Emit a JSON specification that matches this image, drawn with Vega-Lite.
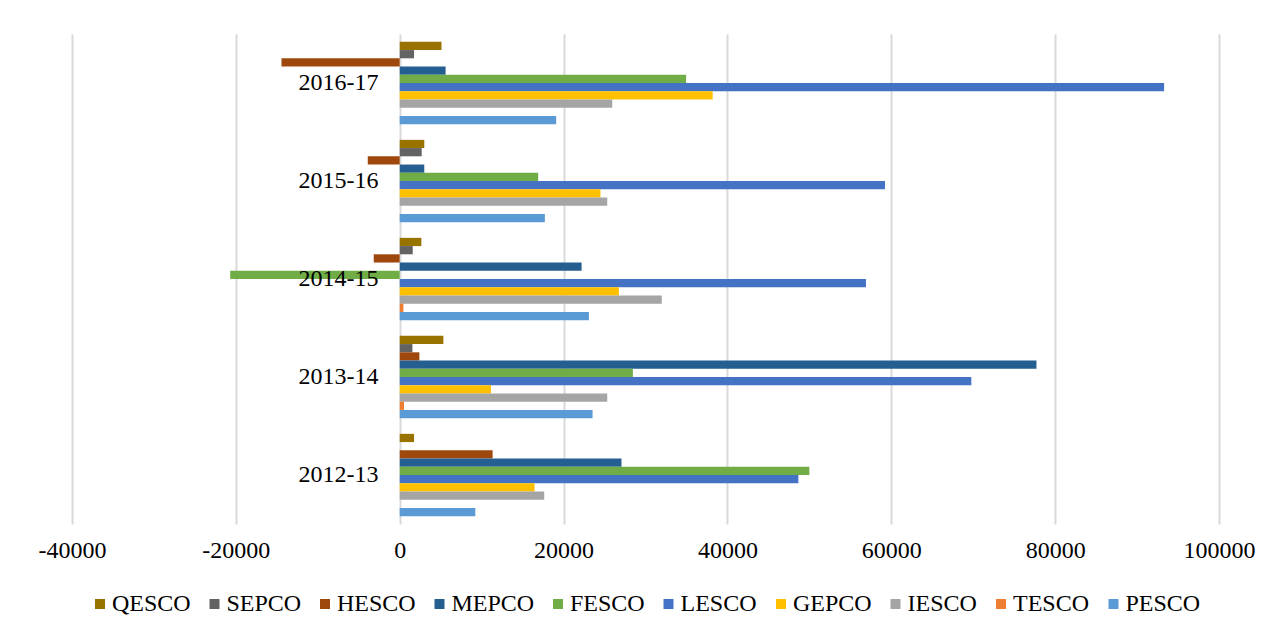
{
  "$schema": "https://vega.github.io/schema/vega-lite/v6.json",
  "width": 1147,
  "height": 490,
  "autosize": {"type": "none"},
  "padding": {"left": 72, "top": 34, "right": 64, "bottom": 115},
  "background": "white",
  "config": {"view": {"stroke": null}, "font": "Liberation Serif"},
  "data": {
    "values": [
      {"year": "2016-17", "company": "QESCO", "value": 5100},
      {"year": "2016-17", "company": "SEPCO", "value": 1750},
      {"year": "2016-17", "company": "HESCO", "value": -14430},
      {"year": "2016-17", "company": "MEPCO", "value": 5600},
      {"year": "2016-17", "company": "FESCO", "value": 34960},
      {"year": "2016-17", "company": "LESCO", "value": 93300},
      {"year": "2016-17", "company": "GEPCO", "value": 38200},
      {"year": "2016-17", "company": "IESCO", "value": 25940},
      {"year": "2016-17", "company": "TESCO", "value": 0},
      {"year": "2016-17", "company": "PESCO", "value": 19100},
      {"year": "2015-16", "company": "QESCO", "value": 3000},
      {"year": "2015-16", "company": "SEPCO", "value": 2680},
      {"year": "2015-16", "company": "HESCO", "value": -3900},
      {"year": "2015-16", "company": "MEPCO", "value": 3000},
      {"year": "2015-16", "company": "FESCO", "value": 16900},
      {"year": "2015-16", "company": "LESCO", "value": 59230},
      {"year": "2015-16", "company": "GEPCO", "value": 24500},
      {"year": "2015-16", "company": "IESCO", "value": 25330},
      {"year": "2015-16", "company": "TESCO", "value": 0},
      {"year": "2015-16", "company": "PESCO", "value": 17720},
      {"year": "2014-15", "company": "QESCO", "value": 2640},
      {"year": "2014-15", "company": "SEPCO", "value": 1590},
      {"year": "2014-15", "company": "HESCO", "value": -3170},
      {"year": "2014-15", "company": "MEPCO", "value": 22200},
      {"year": "2014-15", "company": "FESCO", "value": -20690},
      {"year": "2014-15", "company": "LESCO", "value": 56910},
      {"year": "2014-15", "company": "GEPCO", "value": 26750},
      {"year": "2014-15", "company": "IESCO", "value": 31990},
      {"year": "2014-15", "company": "TESCO", "value": 450},
      {"year": "2014-15", "company": "PESCO", "value": 23090},
      {"year": "2013-14", "company": "QESCO", "value": 5330},
      {"year": "2013-14", "company": "SEPCO", "value": 1550},
      {"year": "2013-14", "company": "HESCO", "value": 2400},
      {"year": "2013-14", "company": "MEPCO", "value": 77720},
      {"year": "2013-14", "company": "FESCO", "value": 28460},
      {"year": "2013-14", "company": "LESCO", "value": 69770},
      {"year": "2013-14", "company": "GEPCO", "value": 11140},
      {"year": "2013-14", "company": "IESCO", "value": 25330},
      {"year": "2013-14", "company": "TESCO", "value": 520},
      {"year": "2013-14", "company": "PESCO", "value": 23540},
      {"year": "2012-13", "company": "QESCO", "value": 1750},
      {"year": "2012-13", "company": "SEPCO", "value": 0},
      {"year": "2012-13", "company": "HESCO", "value": 11340},
      {"year": "2012-13", "company": "MEPCO", "value": 27070},
      {"year": "2012-13", "company": "FESCO", "value": 50000},
      {"year": "2012-13", "company": "LESCO", "value": 48660},
      {"year": "2012-13", "company": "GEPCO", "value": 16460},
      {"year": "2012-13", "company": "IESCO", "value": 17640},
      {"year": "2012-13", "company": "TESCO", "value": 0},
      {"year": "2012-13", "company": "PESCO", "value": 9230}
    ]
  },
  "mark": {"type": "bar"},
  "encoding": {
    "y": {
      "field": "year",
      "type": "nominal",
      "sort": ["2016-17", "2015-16", "2014-15", "2013-14", "2012-13"],
      "scale": {"paddingInner": 0.16, "paddingOuter": 0.08},
      "axis": {
        "title": null,
        "offset": -328,
        "domain": false,
        "ticks": false,
        "grid": false,
        "labelPadding": 22,
        "labelFont": "Liberation Serif",
        "labelFontSize": 24,
        "labelColor": "#000000",
        "zindex": 1
      }
    },
    "yOffset": {
      "field": "company",
      "type": "nominal",
      "sort": ["QESCO", "SEPCO", "HESCO", "MEPCO", "FESCO", "LESCO", "GEPCO", "IESCO", "TESCO", "PESCO"],
      "scale": {"paddingInner": 0, "paddingOuter": 0}
    },
    "x": {
      "field": "value",
      "type": "quantitative",
      "scale": {"domain": [-40000, 100000], "nice": false, "zero": false},
      "axis": {
        "title": null,
        "values": [-40000, -20000, 0, 20000, 40000, 60000, 80000, 100000],
        "domain": false,
        "ticks": false,
        "labelFlush": false,
        "labelPadding": 14,
        "labelFont": "Liberation Serif",
        "labelFontSize": 24,
        "labelColor": "#000000",
        "gridColor": "#d9d9d9",
        "gridWidth": 2,
        "labelExpr": "'' + datum.value"
      }
    },
    "color": {
      "field": "company",
      "type": "nominal",
      "scale": {
        "domain": ["QESCO", "SEPCO", "HESCO", "MEPCO", "FESCO", "LESCO", "GEPCO", "IESCO", "TESCO", "PESCO"],
        "range": ["#997300", "#636363", "#9E480E", "#255E91", "#70AD47", "#4472C4", "#FFC000", "#A5A5A5", "#ED7D31", "#5B9BD5"]
      },
      "legend": {
        "orient": "none",
        "legendX": 16,
        "legendY": 558,
        "direction": "horizontal",
        "columns": 10,
        "title": null,
        "padding": 0,
        "symbolType": "square",
        "symbolSize": 100,
        "symbolStrokeWidth": 0,
        "symbolOpacity": 1,
        "labelFont": "Liberation Serif",
        "labelFontSize": 24,
        "labelColor": "#000000",
        "labelOffset": 0,
        "columnPadding": 11.5
      }
    }
  }
}
